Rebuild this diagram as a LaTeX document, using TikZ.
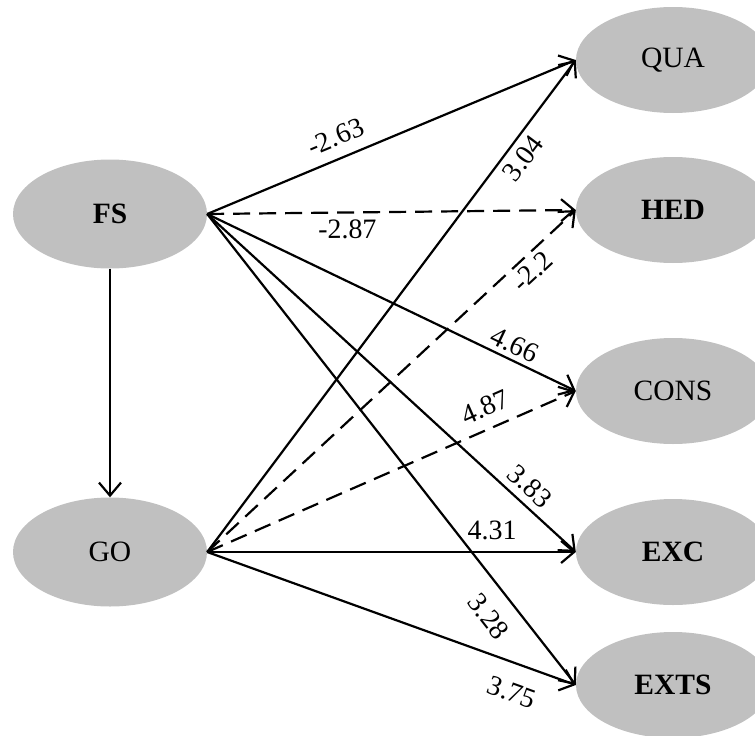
\documentclass[tikz,border=0pt]{standalone}
\usepackage{fontspec}
\setmainfont{Liberation Serif}
\usetikzlibrary{shapes.geometric,arrows.meta}
\definecolor{ellgray}{RGB}{192,192,192}
\begin{document}
\begin{tikzpicture}[x=1pt,y=-1pt,
  latent/.style={ellipse, fill=ellgray, draw=none, minimum width=194pt, minimum height=106pt, inner sep=0pt, font=\fontsize{29.5}{31}\selectfont},
  conn/.style={line width=2.2pt, -{Straight Barb[length=13pt,width=22pt,line width=2.2pt]}},
  dashconn/.style={conn, dash pattern=on 17pt off 9pt},
  lbl/.style={sloped, inner sep=0pt, font=\fontsize{28}{30}\selectfont}
]
\useasboundingbox (0,0) rectangle (755,736);
\node[latent, minimum height=109pt] (FS) at (110,214) {\textbf{FS}};
\node[latent, minimum height=109pt] (GO) at (110,552) {GO};
\node[latent] (QUA) at (673,60) {QUA};
\node[latent] (HED) at (673,210) {\textbf{HED}};
\node[latent] (CONS) at (673,391) {CONS};
\node[latent] (EXC) at (673,552) {\textbf{EXC}};
\node[latent] (EXTS) at (673,685) {\textbf{EXTS}};

\draw[conn] (FS) -- (GO);

\draw[conn] (FS.east) -- node[lbl, pos=0.371, anchor=south, outer ysep=12pt] (l1) {-2.63} (QUA.west);
\draw[dashconn] (FS.east) -- node[lbl, pos=0.38, anchor=north, outer ysep=7.5pt] (l2) {-2.87} (HED.west);
\draw[conn] (FS.east) -- node[lbl, pos=0.817, anchor=south, outer ysep=5.5pt] (l5) {4.66} (CONS.west);
\draw[conn] (FS.east) -- node[lbl, pos=0.844, anchor=south, outer ysep=8pt] (l7) {3.83} (EXC.west);
\draw[conn] (FS.east) -- node[lbl, pos=0.82, anchor=north, outer ysep=17pt] (l9) {3.28} (EXTS.west);

\draw[conn] (GO.east) -- node[lbl, pos=0.821, anchor=north, outer ysep=7pt] (l3) {3.04} (QUA.west);
\draw[dashconn] (GO.east) -- node[lbl, pos=0.853, anchor=north, outer ysep=6pt] (l4) {-2.2} (HED.west);
\draw[dashconn] (GO.east) -- node[lbl, pos=0.777, anchor=south, outer ysep=12pt] (l6) {4.87} (CONS.west);
\draw[conn] (GO.east) -- node[lbl, pos=0.773, anchor=south, outer ysep=12.5pt] (l8) {4.31} (EXC.west);
\draw[conn] (GO.east) -- node[lbl, pos=0.853, anchor=north, outer ysep=19pt] (l10) {3.75} (EXTS.west);
\end{tikzpicture}
\end{document}
